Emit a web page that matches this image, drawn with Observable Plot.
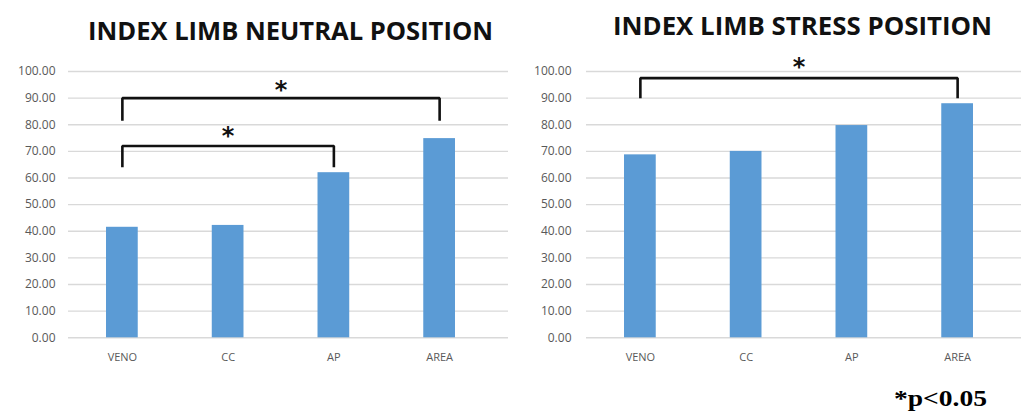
<!DOCTYPE html>
<html>
<head>
<meta charset="utf-8">
<script src="https://cdn.jsdelivr.net/npm/d3@7"></script>
<script src="https://cdn.jsdelivr.net/npm/@observablehq/plot@0.6"></script>
<style>
  html, body { margin: 0; padding: 0; background: #ffffff; }
  #root { position: relative; width: 1021px; height: 411px; overflow: hidden; background: #fff; }
  .panel { position: absolute; top: 0; }
  .title { position: absolute; white-space: nowrap; font-family: "Open Sans", sans-serif; font-weight: 700;
           font-size: 25px; line-height: 25px; color: #111; transform-origin: 0 0; }
  .foot { position: absolute; white-space: nowrap; font-family: "Liberation Serif", "Times New Roman", serif;
          font-weight: 700; font-size: 24px; line-height: 24px; color: #000; transform-origin: 0 0; }
</style>
</head>
<body>
<div id="root"></div>
<script>
// ---- data ----
const categories = ["VENO", "CC", "AP", "AREA"];
const neutralValues = [41.5, 42.2, 62.0, 74.8];
const stressValues = [68.7, 70.0, 79.7, 87.9];
const yTicks = [0, 10, 20, 30, 40, 50, 60, 70, 80, 90, 100];
const neutralTitle = "INDEX LIMB NEUTRAL POSITION";
const stressTitle = "INDEX LIMB STRESS POSITION";
const footnote = "*p<0.05";
// significance brackets: from/to category, leg bottom value, bar top value, star value
const neutralBrackets = [
  {from: "VENO", to: "AREA", low: 81.5, top: 90, star: 95},
  {from: "VENO", to: "AP", low: 64, top: 72, star: 77.4}
];
const stressBrackets = [
  {from: "VENO", to: "AREA", low: 90, top: 97.5, star: 103.5}
];

// ---- drawing ----
const root = document.getElementById("root");
const BAR = "#5b9bd5";
const halfBar = 0.15;

function bracketPath(brackets) {
  const pts = [];
  brackets.forEach((b, k) => {
    const i1 = categories.indexOf(b.from), i2 = categories.indexOf(b.to);
    pts.push({k, x: i1, y: b.low}, {k, x: i1, y: b.top}, {k, x: i2, y: b.top}, {k, x: i2, y: b.low});
  });
  return pts;
}

function makeChart(values, brackets, opts) {
  const rows = categories.map((c, i) => ({i, c, v: values[i]}));
  const stars = brackets.map(b => ({x: (categories.indexOf(b.from) + categories.indexOf(b.to)) / 2, y: b.star}));
  return Plot.plot({
    width: opts.width,
    height: 380,
    marginTop: 71,
    marginBottom: 42.7,
    marginLeft: opts.marginLeft,
    marginRight: opts.marginRight,
    style: {fontFamily: "Open Sans, sans-serif", color: "#595959", background: "transparent", overflow: "visible"},
    x: {type: "linear", domain: [-0.5, 3.5], range: opts.xRange, label: null},
    y: {domain: [0, 100], label: null},
    marks: [
      Plot.gridY(yTicks, {stroke: "#d9d9d9", strokeOpacity: 1, strokeWidth: 1.4}),
      Plot.rectY(rows, {x1: d => d.i - halfBar, x2: d => d.i + halfBar, y1: 0, y2: "v", fill: BAR}),
      Plot.axisY(yTicks, {tickSize: 0, tickPadding: opts.tickPadding, tickFormat: d => d.toFixed(2), fontSize: 12, fill: "#595959", label: null}),
      Plot.axisX([0, 1, 2, 3], {tickSize: 0, tickPadding: 15, tickFormat: i => categories[i], fontSize: 11, fill: "#595959", label: null}),
      Plot.line(bracketPath(brackets), {x: "x", y: "y", z: "k", stroke: "#111", strokeWidth: 2.6, strokeLinejoin: "miter", strokeLinecap: "butt", curve: "linear"}),
      Plot.text(stars, {x: "x", y: "y", text: () => "*", fontSize: 24, fontWeight: "bold", fill: "#111", lineAnchor: "middle", dy: 5, fontFamily: "DejaVu Sans"})
    ]
  });
}

const left = document.createElement("div");
left.className = "panel";
left.style.left = "0px";
left.appendChild(makeChart(neutralValues, neutralBrackets, {width: 510, marginLeft: 68, marginRight: 2, xRange: [69, 492], tickPadding: 13}));
root.appendChild(left);

const right = document.createElement("div");
right.className = "panel";
right.style.left = "510px";
right.appendChild(makeChart(stressValues, stressBrackets, {width: 511, marginLeft: 76, marginRight: 0, xRange: [77, 500], tickPadding: 15}));
root.appendChild(right);

function addText(cls, text, x, y, targetWidth) {
  const el = document.createElement("div");
  el.className = cls;
  el.textContent = text;
  el.style.left = x + "px";
  el.style.top = y + "px";
  root.appendChild(el);
  const w = el.getBoundingClientRect().width;
  el.style.transform = `scaleX(${targetWidth / w})`;
  return el;
}
addText("title", neutralTitle, 88, 18, 405);
addText("title", stressTitle, 613, 13, 379);
addText("foot", footnote, 894, 386, 93);
</script>
</body>
</html>
